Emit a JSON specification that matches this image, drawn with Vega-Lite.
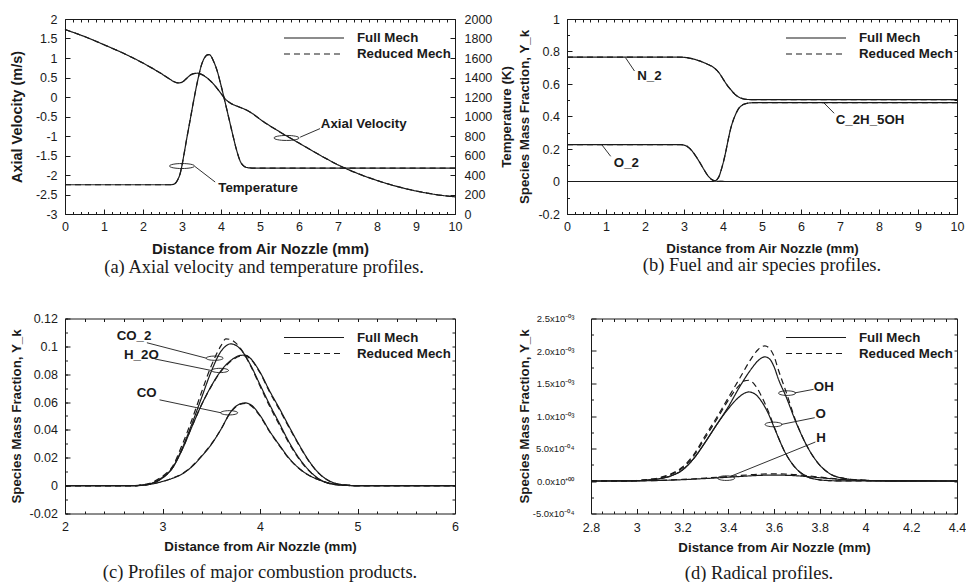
{
  "$schema": "https://vega.github.io/schema/vega-lite/v6.json",
  "background": "white",
  "padding": {"left": 8, "top": 12, "right": 0, "bottom": 0},
  "columns": 2,
  "spacing": {"row": 27.5, "column": 3},
  "align": {"row": "all", "column": "none"},
  "resolve": {"scale": {"strokeDash": "independent"}, "legend": {"strokeDash": "independent"}},
  "datasets": {
    "vel": [
      {"x": 0, "full": 1.73, "reduced": 1.73}, {"x": 0.5, "full": 1.55, "reduced": 1.55}, {"x": 1, "full": 1.34, "reduced": 1.34},
      {"x": 1.5, "full": 1.12, "reduced": 1.12}, {"x": 2, "full": 0.87, "reduced": 0.87}, {"x": 2.5, "full": 0.58, "reduced": 0.58},
      {"x": 2.7, "full": 0.45, "reduced": 0.45}, {"x": 2.8, "full": 0.39, "reduced": 0.39}, {"x": 2.9, "full": 0.36, "reduced": 0.36},
      {"x": 3, "full": 0.38, "reduced": 0.38}, {"x": 3.1, "full": 0.46, "reduced": 0.46}, {"x": 3.2, "full": 0.55, "reduced": 0.55},
      {"x": 3.3, "full": 0.6, "reduced": 0.6}, {"x": 3.4, "full": 0.61, "reduced": 0.61}, {"x": 3.5, "full": 0.58, "reduced": 0.58},
      {"x": 3.6, "full": 0.52, "reduced": 0.52}, {"x": 3.7, "full": 0.44, "reduced": 0.44}, {"x": 3.8, "full": 0.34, "reduced": 0.34},
      {"x": 3.9, "full": 0.22, "reduced": 0.22}, {"x": 4, "full": 0.09, "reduced": 0.09}, {"x": 4.1, "full": -0.04, "reduced": -0.04},
      {"x": 4.2, "full": -0.13, "reduced": -0.13}, {"x": 4.3, "full": -0.19, "reduced": -0.19}, {"x": 4.4, "full": -0.23, "reduced": -0.23},
      {"x": 4.5, "full": -0.27, "reduced": -0.27}, {"x": 4.6, "full": -0.31, "reduced": -0.31}, {"x": 4.7, "full": -0.36, "reduced": -0.36},
      {"x": 4.8, "full": -0.42, "reduced": -0.42}, {"x": 5, "full": -0.57, "reduced": -0.57}, {"x": 5.5, "full": -0.89, "reduced": -0.89},
      {"x": 6, "full": -1.18, "reduced": -1.18}, {"x": 6.5, "full": -1.47, "reduced": -1.47}, {"x": 7, "full": -1.74, "reduced": -1.74},
      {"x": 7.5, "full": -1.96, "reduced": -1.96}, {"x": 8, "full": -2.14, "reduced": -2.14}, {"x": 8.5, "full": -2.29, "reduced": -2.29},
      {"x": 9, "full": -2.41, "reduced": -2.41}, {"x": 9.5, "full": -2.5, "reduced": -2.5}, {"x": 10, "full": -2.56, "reduced": -2.56}
    ],
    "temp": [
      {"x": 0, "full": 300, "reduced": 300}, {"x": 2.7, "full": 300, "reduced": 300}, {"x": 2.75, "full": 302, "reduced": 302},
      {"x": 2.8, "full": 308, "reduced": 308}, {"x": 2.85, "full": 325, "reduced": 325}, {"x": 2.9, "full": 360, "reduced": 360},
      {"x": 2.95, "full": 410, "reduced": 410}, {"x": 3, "full": 500, "reduced": 500}, {"x": 3.05, "full": 610, "reduced": 610},
      {"x": 3.1, "full": 725, "reduced": 725}, {"x": 3.2, "full": 945, "reduced": 945}, {"x": 3.3, "full": 1165, "reduced": 1165},
      {"x": 3.4, "full": 1365, "reduced": 1365}, {"x": 3.5, "full": 1530, "reduced": 1530}, {"x": 3.6, "full": 1615, "reduced": 1615},
      {"x": 3.65, "full": 1632, "reduced": 1632}, {"x": 3.7, "full": 1635, "reduced": 1635}, {"x": 3.75, "full": 1615, "reduced": 1615},
      {"x": 3.8, "full": 1575, "reduced": 1575}, {"x": 3.9, "full": 1470, "reduced": 1470}, {"x": 4, "full": 1320, "reduced": 1320},
      {"x": 4.1, "full": 1155, "reduced": 1155}, {"x": 4.2, "full": 985, "reduced": 985}, {"x": 4.3, "full": 815, "reduced": 815},
      {"x": 4.4, "full": 655, "reduced": 655}, {"x": 4.5, "full": 535, "reduced": 535}, {"x": 4.6, "full": 487, "reduced": 487},
      {"x": 4.7, "full": 474, "reduced": 474}, {"x": 4.8, "full": 471, "reduced": 471}, {"x": 5, "full": 470, "reduced": 470},
      {"x": 10, "full": 470, "reduced": 470}
    ],
    "fuel": [
      {"x": 0, "sp": "N2", "full": 0.766, "reduced": 0.766}, {"x": 2.8, "sp": "N2", "full": 0.766, "reduced": 0.766},
      {"x": 3, "sp": "N2", "full": 0.764, "reduced": 0.764}, {"x": 3.2, "sp": "N2", "full": 0.756, "reduced": 0.756},
      {"x": 3.4, "sp": "N2", "full": 0.742, "reduced": 0.742}, {"x": 3.6, "sp": "N2", "full": 0.722, "reduced": 0.722},
      {"x": 3.75, "sp": "N2", "full": 0.703, "reduced": 0.703}, {"x": 3.9, "sp": "N2", "full": 0.668, "reduced": 0.668},
      {"x": 4, "sp": "N2", "full": 0.632, "reduced": 0.632}, {"x": 4.1, "sp": "N2", "full": 0.595, "reduced": 0.595},
      {"x": 4.2, "sp": "N2", "full": 0.565, "reduced": 0.565}, {"x": 4.3, "sp": "N2", "full": 0.538, "reduced": 0.538},
      {"x": 4.4, "sp": "N2", "full": 0.52, "reduced": 0.52}, {"x": 4.5, "sp": "N2", "full": 0.51, "reduced": 0.51},
      {"x": 4.6, "sp": "N2", "full": 0.505, "reduced": 0.505}, {"x": 4.8, "sp": "N2", "full": 0.504, "reduced": 0.504},
      {"x": 10, "sp": "N2", "full": 0.504, "reduced": 0.504},
      {"x": 0, "sp": "O2", "full": 0.227, "reduced": 0.227}, {"x": 2.9, "sp": "O2", "full": 0.227, "reduced": 0.227},
      {"x": 3, "sp": "O2", "full": 0.224, "reduced": 0.224}, {"x": 3.1, "sp": "O2", "full": 0.213, "reduced": 0.213},
      {"x": 3.2, "sp": "O2", "full": 0.19, "reduced": 0.19}, {"x": 3.3, "sp": "O2", "full": 0.157, "reduced": 0.157},
      {"x": 3.4, "sp": "O2", "full": 0.119, "reduced": 0.119}, {"x": 3.5, "sp": "O2", "full": 0.078, "reduced": 0.078},
      {"x": 3.6, "sp": "O2", "full": 0.04, "reduced": 0.04}, {"x": 3.7, "sp": "O2", "full": 0.014, "reduced": 0.014},
      {"x": 3.8, "sp": "O2", "full": 0.003, "reduced": 0.003}, {"x": 3.9, "sp": "O2", "full": 0.0008, "reduced": 0.0008},
      {"x": 4.1, "sp": "O2", "full": 0, "reduced": 0}, {"x": 10, "sp": "O2", "full": 0, "reduced": 0},
      {"x": 0, "sp": "C2H5OH", "full": 0, "reduced": 0}, {"x": 3.7, "sp": "C2H5OH", "full": 0, "reduced": 0},
      {"x": 3.8, "sp": "C2H5OH", "full": 0.005, "reduced": 0.005}, {"x": 3.85, "sp": "C2H5OH", "full": 0.013, "reduced": 0.013},
      {"x": 3.9, "sp": "C2H5OH", "full": 0.032, "reduced": 0.032}, {"x": 3.95, "sp": "C2H5OH", "full": 0.068, "reduced": 0.068},
      {"x": 4, "sp": "C2H5OH", "full": 0.11, "reduced": 0.11}, {"x": 4.05, "sp": "C2H5OH", "full": 0.16, "reduced": 0.16},
      {"x": 4.1, "sp": "C2H5OH", "full": 0.218, "reduced": 0.218}, {"x": 4.15, "sp": "C2H5OH", "full": 0.276, "reduced": 0.276},
      {"x": 4.2, "sp": "C2H5OH", "full": 0.328, "reduced": 0.328}, {"x": 4.25, "sp": "C2H5OH", "full": 0.368, "reduced": 0.368},
      {"x": 4.3, "sp": "C2H5OH", "full": 0.4, "reduced": 0.4}, {"x": 4.4, "sp": "C2H5OH", "full": 0.448, "reduced": 0.448},
      {"x": 4.5, "sp": "C2H5OH", "full": 0.471, "reduced": 0.471}, {"x": 4.6, "sp": "C2H5OH", "full": 0.48, "reduced": 0.48},
      {"x": 4.7, "sp": "C2H5OH", "full": 0.484, "reduced": 0.484}, {"x": 4.8, "sp": "C2H5OH", "full": 0.485, "reduced": 0.485},
      {"x": 10, "sp": "C2H5OH", "full": 0.485, "reduced": 0.485}
    ],
    "major": [
      {"x": 2, "sp": "CO2", "full": 0, "reduced": 0}, {"x": 2.7, "sp": "CO2", "full": 0, "reduced": 0},
      {"x": 2.8, "sp": "CO2", "full": 0.0005, "reduced": 0.0006}, {"x": 2.9, "sp": "CO2", "full": 0.002, "reduced": 0.0025},
      {"x": 3, "sp": "CO2", "full": 0.006, "reduced": 0.0068}, {"x": 3.1, "sp": "CO2", "full": 0.0125, "reduced": 0.0135},
      {"x": 3.2, "sp": "CO2", "full": 0.0265, "reduced": 0.029}, {"x": 3.3, "sp": "CO2", "full": 0.044, "reduced": 0.047},
      {"x": 3.4, "sp": "CO2", "full": 0.063, "reduced": 0.067}, {"x": 3.5, "sp": "CO2", "full": 0.082, "reduced": 0.086},
      {"x": 3.6, "sp": "CO2", "full": 0.0965, "reduced": 0.1005}, {"x": 3.65, "sp": "CO2", "full": 0.1003, "reduced": 0.1054},
      {"x": 3.7, "sp": "CO2", "full": 0.1018, "reduced": 0.1048}, {"x": 3.75, "sp": "CO2", "full": 0.1008, "reduced": 0.1025},
      {"x": 3.8, "sp": "CO2", "full": 0.098, "reduced": 0.0985}, {"x": 3.9, "sp": "CO2", "full": 0.087, "reduced": 0.0865},
      {"x": 4, "sp": "CO2", "full": 0.0725, "reduced": 0.0715}, {"x": 4.1, "sp": "CO2", "full": 0.058, "reduced": 0.0568},
      {"x": 4.2, "sp": "CO2", "full": 0.0446, "reduced": 0.0435}, {"x": 4.3, "sp": "CO2", "full": 0.031, "reduced": 0.0302},
      {"x": 4.4, "sp": "CO2", "full": 0.0198, "reduced": 0.0192}, {"x": 4.5, "sp": "CO2", "full": 0.0112, "reduced": 0.0108},
      {"x": 4.6, "sp": "CO2", "full": 0.005, "reduced": 0.0048}, {"x": 4.7, "sp": "CO2", "full": 0.0018, "reduced": 0.0017},
      {"x": 4.8, "sp": "CO2", "full": 0.0005, "reduced": 0.0005}, {"x": 4.9, "sp": "CO2", "full": 0.0001, "reduced": 0.0001},
      {"x": 5, "sp": "CO2", "full": 0, "reduced": 0}, {"x": 6, "sp": "CO2", "full": 0, "reduced": 0},
      {"x": 2, "sp": "H2O", "full": 0, "reduced": 0}, {"x": 2.7, "sp": "H2O", "full": 0, "reduced": 0},
      {"x": 2.8, "sp": "H2O", "full": 0.0003, "reduced": 0.0003}, {"x": 2.9, "sp": "H2O", "full": 0.0018, "reduced": 0.0018},
      {"x": 3, "sp": "H2O", "full": 0.0055, "reduced": 0.0055}, {"x": 3.1, "sp": "H2O", "full": 0.0125, "reduced": 0.0127},
      {"x": 3.2, "sp": "H2O", "full": 0.0255, "reduced": 0.0258}, {"x": 3.3, "sp": "H2O", "full": 0.042, "reduced": 0.0422},
      {"x": 3.4, "sp": "H2O", "full": 0.058, "reduced": 0.058}, {"x": 3.5, "sp": "H2O", "full": 0.0715, "reduced": 0.0713},
      {"x": 3.6, "sp": "H2O", "full": 0.0825, "reduced": 0.082}, {"x": 3.7, "sp": "H2O", "full": 0.0898, "reduced": 0.0892},
      {"x": 3.8, "sp": "H2O", "full": 0.0935, "reduced": 0.093}, {"x": 3.85, "sp": "H2O", "full": 0.0937, "reduced": 0.0932},
      {"x": 3.9, "sp": "H2O", "full": 0.0915, "reduced": 0.091}, {"x": 4, "sp": "H2O", "full": 0.0815, "reduced": 0.081},
      {"x": 4.1, "sp": "H2O", "full": 0.0678, "reduced": 0.067}, {"x": 4.2, "sp": "H2O", "full": 0.0553, "reduced": 0.0545},
      {"x": 4.3, "sp": "H2O", "full": 0.0422, "reduced": 0.0415}, {"x": 4.4, "sp": "H2O", "full": 0.0295, "reduced": 0.029},
      {"x": 4.5, "sp": "H2O", "full": 0.018, "reduced": 0.0176}, {"x": 4.6, "sp": "H2O", "full": 0.0092, "reduced": 0.009},
      {"x": 4.7, "sp": "H2O", "full": 0.0038, "reduced": 0.0037}, {"x": 4.8, "sp": "H2O", "full": 0.0012, "reduced": 0.0012},
      {"x": 4.9, "sp": "H2O", "full": 0.0003, "reduced": 0.0003}, {"x": 5, "sp": "H2O", "full": 0, "reduced": 0},
      {"x": 6, "sp": "H2O", "full": 0, "reduced": 0},
      {"x": 2, "sp": "CO", "full": 0, "reduced": 0}, {"x": 2.7, "sp": "CO", "full": 0, "reduced": 0},
      {"x": 2.8, "sp": "CO", "full": 0.0004, "reduced": 0.0004}, {"x": 2.9, "sp": "CO", "full": 0.0013, "reduced": 0.0013},
      {"x": 3, "sp": "CO", "full": 0.003, "reduced": 0.003}, {"x": 3.1, "sp": "CO", "full": 0.0052, "reduced": 0.0053},
      {"x": 3.2, "sp": "CO", "full": 0.0083, "reduced": 0.0085}, {"x": 3.3, "sp": "CO", "full": 0.0135, "reduced": 0.0138},
      {"x": 3.4, "sp": "CO", "full": 0.021, "reduced": 0.0213}, {"x": 3.5, "sp": "CO", "full": 0.0295, "reduced": 0.0298},
      {"x": 3.6, "sp": "CO", "full": 0.0405, "reduced": 0.0405}, {"x": 3.7, "sp": "CO", "full": 0.053, "reduced": 0.0528},
      {"x": 3.75, "sp": "CO", "full": 0.0568, "reduced": 0.0565}, {"x": 3.8, "sp": "CO", "full": 0.0588, "reduced": 0.0585},
      {"x": 3.85, "sp": "CO", "full": 0.0594, "reduced": 0.059}, {"x": 3.9, "sp": "CO", "full": 0.0583, "reduced": 0.0578},
      {"x": 4, "sp": "CO", "full": 0.0505, "reduced": 0.05}, {"x": 4.1, "sp": "CO", "full": 0.039, "reduced": 0.0385},
      {"x": 4.2, "sp": "CO", "full": 0.029, "reduced": 0.0286}, {"x": 4.3, "sp": "CO", "full": 0.0195, "reduced": 0.0192},
      {"x": 4.4, "sp": "CO", "full": 0.0125, "reduced": 0.0123}, {"x": 4.5, "sp": "CO", "full": 0.0075, "reduced": 0.0074},
      {"x": 4.6, "sp": "CO", "full": 0.0043, "reduced": 0.0042}, {"x": 4.7, "sp": "CO", "full": 0.002, "reduced": 0.002},
      {"x": 4.8, "sp": "CO", "full": 0.0008, "reduced": 0.0008}, {"x": 4.9, "sp": "CO", "full": 0.0002, "reduced": 0.0002},
      {"x": 5, "sp": "CO", "full": 0, "reduced": 0}, {"x": 6, "sp": "CO", "full": 0, "reduced": 0}
    ],
    "radical": [
      {"x": 2.8, "sp": "OH", "full": 0, "reduced": 0}, {"x": 2.9, "sp": "OH", "full": 0.0000005, "reduced": 0.000001},
      {"x": 3, "sp": "OH", "full": 0.000005, "reduced": 0.000008}, {"x": 3.05, "sp": "OH", "full": 0.000015, "reduced": 0.000022},
      {"x": 3.1, "sp": "OH", "full": 0.000035, "reduced": 0.000052}, {"x": 3.15, "sp": "OH", "full": 0.00008, "reduced": 0.00011},
      {"x": 3.2, "sp": "OH", "full": 0.00017, "reduced": 0.000215}, {"x": 3.25, "sp": "OH", "full": 0.00035, "reduced": 0.00041},
      {"x": 3.3, "sp": "OH", "full": 0.0006, "reduced": 0.0007}, {"x": 3.35, "sp": "OH", "full": 0.00087, "reduced": 0.00098},
      {"x": 3.4, "sp": "OH", "full": 0.00114, "reduced": 0.00128}, {"x": 3.45, "sp": "OH", "full": 0.00145, "reduced": 0.00158},
      {"x": 3.5, "sp": "OH", "full": 0.00172, "reduced": 0.00188}, {"x": 3.53, "sp": "OH", "full": 0.00185, "reduced": 0.00202},
      {"x": 3.56, "sp": "OH", "full": 0.00191, "reduced": 0.00208}, {"x": 3.58, "sp": "OH", "full": 0.00188, "reduced": 0.00204},
      {"x": 3.6, "sp": "OH", "full": 0.00176, "reduced": 0.00192}, {"x": 3.62, "sp": "OH", "full": 0.00156, "reduced": 0.0017},
      {"x": 3.65, "sp": "OH", "full": 0.00132, "reduced": 0.0014}, {"x": 3.7, "sp": "OH", "full": 0.00087, "reduced": 0.00088},
      {"x": 3.75, "sp": "OH", "full": 0.0005, "reduced": 0.0005}, {"x": 3.8, "sp": "OH", "full": 0.000245, "reduced": 0.000245},
      {"x": 3.85, "sp": "OH", "full": 0.0001, "reduced": 0.0001}, {"x": 3.9, "sp": "OH", "full": 0.000045, "reduced": 0.000045},
      {"x": 3.95, "sp": "OH", "full": 0.00002, "reduced": 0.00002}, {"x": 4, "sp": "OH", "full": 0.00001, "reduced": 0.00001},
      {"x": 4.1, "sp": "OH", "full": 0.000003, "reduced": 0.000003}, {"x": 4.2, "sp": "OH", "full": 0.000001, "reduced": 0.000001},
      {"x": 4.4, "sp": "OH", "full": 0, "reduced": 0},
      {"x": 2.8, "sp": "O", "full": 0, "reduced": 0}, {"x": 2.9, "sp": "O", "full": 0.0000005, "reduced": 0.000001},
      {"x": 3, "sp": "O", "full": 0.000005, "reduced": 0.000007}, {"x": 3.05, "sp": "O", "full": 0.000015, "reduced": 0.000019},
      {"x": 3.1, "sp": "O", "full": 0.000035, "reduced": 0.000047}, {"x": 3.15, "sp": "O", "full": 0.00008, "reduced": 0.0001},
      {"x": 3.2, "sp": "O", "full": 0.00017, "reduced": 0.0002}, {"x": 3.25, "sp": "O", "full": 0.00035, "reduced": 0.00039},
      {"x": 3.3, "sp": "O", "full": 0.0006, "reduced": 0.00067}, {"x": 3.35, "sp": "O", "full": 0.00087, "reduced": 0.00095},
      {"x": 3.4, "sp": "O", "full": 0.00111, "reduced": 0.00124}, {"x": 3.45, "sp": "O", "full": 0.0013, "reduced": 0.00148},
      {"x": 3.47, "sp": "O", "full": 0.00135, "reduced": 0.00154}, {"x": 3.49, "sp": "O", "full": 0.00137, "reduced": 0.00155},
      {"x": 3.52, "sp": "O", "full": 0.00133, "reduced": 0.00146}, {"x": 3.55, "sp": "O", "full": 0.0012, "reduced": 0.00127},
      {"x": 3.58, "sp": "O", "full": 0.001, "reduced": 0.00103}, {"x": 3.6, "sp": "O", "full": 0.00083, "reduced": 0.00084},
      {"x": 3.65, "sp": "O", "full": 0.00043, "reduced": 0.00043}, {"x": 3.7, "sp": "O", "full": 0.00018, "reduced": 0.00018},
      {"x": 3.75, "sp": "O", "full": 0.00006, "reduced": 0.00006}, {"x": 3.8, "sp": "O", "full": 0.000018, "reduced": 0.000018},
      {"x": 3.85, "sp": "O", "full": 0.000005, "reduced": 0.000005}, {"x": 3.9, "sp": "O", "full": 0.000001, "reduced": 0.000001},
      {"x": 4, "sp": "O", "full": 0, "reduced": 0}, {"x": 4.4, "sp": "O", "full": 0, "reduced": 0},
      {"x": 2.8, "sp": "H", "full": 0, "reduced": 0}, {"x": 3, "sp": "H", "full": 0.000002, "reduced": 0.000003},
      {"x": 3.1, "sp": "H", "full": 0.000008, "reduced": 0.00001}, {"x": 3.2, "sp": "H", "full": 0.00002, "reduced": 0.000024},
      {"x": 3.3, "sp": "H", "full": 0.000038, "reduced": 0.000045}, {"x": 3.4, "sp": "H", "full": 0.000058, "reduced": 0.00007},
      {"x": 3.5, "sp": "H", "full": 0.00008, "reduced": 0.000097}, {"x": 3.55, "sp": "H", "full": 0.000088, "reduced": 0.000107},
      {"x": 3.6, "sp": "H", "full": 0.00009, "reduced": 0.00011}, {"x": 3.65, "sp": "H", "full": 0.000088, "reduced": 0.000107},
      {"x": 3.7, "sp": "H", "full": 0.00008, "reduced": 0.000097}, {"x": 3.75, "sp": "H", "full": 0.000066, "reduced": 0.00008},
      {"x": 3.8, "sp": "H", "full": 0.00005, "reduced": 0.00006}, {"x": 3.85, "sp": "H", "full": 0.000035, "reduced": 0.000042},
      {"x": 3.9, "sp": "H", "full": 0.000022, "reduced": 0.000027}, {"x": 4, "sp": "H", "full": 0.000008, "reduced": 0.00001},
      {"x": 4.1, "sp": "H", "full": 0.000003, "reduced": 0.000004}, {"x": 4.2, "sp": "H", "full": 0.000001, "reduced": 0.000001},
      {"x": 4.4, "sp": "H", "full": 0, "reduced": 0}
    ],
    "aLeaders": [{"x": 6.03, "y": -1.03, "x2": 6.54, "y2": -0.81}, {"x": 3.33, "y": -1.78, "x2": 3.85, "y2": -2.18}],
    "aRings": [{"x": 5.68, "y": -1.05}, {"x": 3.0, "y": -1.77}],
    "aNames": [{"x": 6.56, "y": -0.68, "t": "Axial Velocity"}, {"x": 3.93, "y": -2.33, "t": "Temperature"}],
    "bLeaders": [{"x": 1.5, "y": 0.762, "x2": 1.73, "y2": 0.68}, {"x": 0.89, "y": 0.227, "x2": 1.12, "y2": 0.155}, {"x": 6.59, "y": 0.483, "x2": 6.85, "y2": 0.42}],
    "bNames": [{"x": 1.8, "y": 0.647, "t": "N_2"}, {"x": 1.2, "y": 0.114, "t": "O_2"}, {"x": 6.89, "y": 0.38, "t": "C_2H_5OH"}],
    "cLeaders": [{"x": 2.84, "y": 0.1026, "x2": 3.45, "y2": 0.0915}, {"x": 2.92, "y": 0.091, "x2": 3.5, "y2": 0.0827}, {"x": 2.97, "y": 0.0616, "x2": 3.6, "y2": 0.0523}],
    "cRings": [{"x": 3.535, "y": 0.0915}, {"x": 3.59, "y": 0.0827}, {"x": 3.684, "y": 0.0523}],
    "cNames": [{"x": 2.53, "y": 0.1073, "t": "CO_2"}, {"x": 2.605, "y": 0.0939, "t": "H_2O"}, {"x": 2.735, "y": 0.0666, "t": "CO"}],
    "dLeaders": [{"x": 3.69, "y": 0.001355, "x2": 3.773, "y2": 0.00141}, {"x": 3.632, "y": 0.00087, "x2": 3.778, "y2": 0.000974}, {"x": 3.409, "y": 0.00007, "x2": 3.781, "y2": 0.0006}],
    "dRings": [{"x": 3.657, "y": 0.001352}, {"x": 3.598, "y": 0.00087}, {"x": 3.391, "y": 0.000044}],
    "dNames": [{"x": 3.774, "y": 0.001447, "t": "OH"}, {"x": 3.781, "y": 0.001036, "t": "O"}, {"x": 3.785, "y": 0.000666, "t": "H"}]
  },
  "concat": [
    {
      "width": 390, "height": 195,
      "title": {"text": "(a) Axial velocity and temperature profiles.", "dx": 4},
      "resolve": {"scale": {"y": "independent"}, "axis": {"x": "independent", "y": "independent"}},
      "layer": [
        {
          "data": {"name": "vel"},
          "transform": [{"fold": ["full", "reduced"], "as": ["mech", "v"]}],
          "mark": {"type": "line", "interpolate": "monotone", "strokeWidth": 1.2, "color": "#1a1a1a"},
          "encoding": {
            "x": {"field": "x", "type": "quantitative", "scale": {"domain": [0, 10], "nice": false},
              "axis": {"orient": "bottom", "values": [0, 1, 2, 3, 4, 5, 6, 7, 8, 9, 10], "title": "Distance from Air Nozzle (mm)", "titleFontSize": 15, "titlePadding": 8.5, "labelExpr": "'' + datum.value"}},
            "y": {"field": "v", "type": "quantitative", "scale": {"domain": [-3, 2], "nice": false, "zero": false},
              "axis": {"orient": "left", "values": [-3, -2.5, -2, -1.5, -1, -0.5, 0, 0.5, 1, 1.5, 2], "title": "Axial Velocity (m/s)", "titleFontSize": 14.5, "labelPadding": 13, "titlePadding": 11, "labelExpr": "'' + datum.value"}},
            "strokeDash": {"field": "mech", "type": "nominal", "scale": {"domain": ["full", "reduced"], "range": [[1, 0], [6, 4]]}, "legend": {"orient": "none", "legendX": 218, "legendY": 11, "labelExpr": "datum.label == 'full' ? 'Full Mech' : 'Reduced Mech'"}}
          }
        },
        {
          "data": {"name": "temp"},
          "transform": [{"fold": ["full", "reduced"], "as": ["mech", "v"]}],
          "mark": {"type": "line", "interpolate": "monotone", "strokeWidth": 1.2, "color": "#1a1a1a"},
          "encoding": {
            "x": {"field": "x", "type": "quantitative", "scale": {"domain": [0, 10], "nice": false},
              "axis": {"orient": "bottom", "tickCount": 50, "labels": false, "title": null, "tickSize": -2.5}},
            "y": {"field": "v", "type": "quantitative", "scale": {"domain": [0, 2000], "nice": false},
              "axis": {"orient": "right", "values": [0, 200, 400, 600, 800, 1000, 1200, 1400, 1600, 1800, 2000], "title": "Temperature (K)", "titleAngle": 270, "titleBaseline": "top", "labelPadding": 14, "titlePadding": 8, "labelExpr": "'' + datum.value"}},
            "strokeDash": {"field": "mech", "type": "nominal", "scale": {"domain": ["full", "reduced"], "range": [[1, 0], [6, 4]]}, "legend": {"orient": "none", "legendX": 218, "legendY": 11, "labelExpr": "datum.label == 'full' ? 'Full Mech' : 'Reduced Mech'"}}
          }
        },
        {
          "data": {"name": "aLeaders"},
          "mark": {"type": "rule", "color": "#1a1a1a", "strokeWidth": 0.9},
          "encoding": {
            "x": {"field": "x", "type": "quantitative", "scale": {"domain": [0, 10], "nice": false},
              "axis": {"orient": "top", "tickCount": 50, "labels": false, "title": null, "tickSize": -3}},
            "y": {"field": "y", "type": "quantitative", "scale": {"domain": [-3, 2], "nice": false, "zero": false}, "axis": null},
            "x2": {"field": "x2"}, "y2": {"field": "y2"}
          }
        },
        {
          "data": {"name": "aRings"},
          "mark": {"type": "point", "shape": "M-1,0A1,0.2,0,1,0,1,0A1,0.2,0,1,0,-1,0Z", "size": 625, "filled": false, "stroke": "#1a1a1a", "strokeWidth": 0.9, "opacity": 1},
          "encoding": {
            "x": {"field": "x", "type": "quantitative", "axis": null},
            "y": {"field": "y", "type": "quantitative", "scale": {"domain": [-3, 2], "nice": false, "zero": false}, "axis": null}
          }
        },
        {
          "data": {"name": "aNames"},
          "mark": {"type": "text", "align": "left", "baseline": "middle", "font": "Liberation Sans", "fontWeight": "bold", "fontSize": 13.3, "color": "#1a1a1a"},
          "encoding": {
            "x": {"field": "x", "type": "quantitative", "axis": null},
            "y": {"field": "y", "type": "quantitative", "scale": {"domain": [-3, 2], "nice": false, "zero": false}, "axis": null},
            "text": {"field": "t"}
          }
        }
      ]
    },
    {
      "width": 390, "height": 195,
      "title": {"text": "(b) Fuel and air species profiles."},
      "resolve": {"axis": {"x": "independent", "y": "independent"}},
      "layer": [
        {
          "data": {"name": "fuel"},
          "transform": [{"fold": ["full", "reduced"], "as": ["mech", "v"]}],
          "mark": {"type": "line", "interpolate": "monotone", "strokeWidth": 1.2, "color": "#1a1a1a"},
          "encoding": {
            "x": {"field": "x", "type": "quantitative", "scale": {"domain": [0, 10], "nice": false},
              "axis": {"orient": "bottom", "values": [0, 1, 2, 3, 4, 5, 6, 7, 8, 9, 10], "title": "Distance from Air Nozzle (mm)", "titlePadding": 8.5, "labelExpr": "'' + datum.value"}},
            "y": {"field": "v", "type": "quantitative", "scale": {"domain": [-0.2, 1], "nice": false, "zero": false},
              "axis": {"orient": "left", "values": [-0.2, 0, 0.2, 0.4, 0.6, 0.8, 1], "title": "Species Mass Fraction, Y_k", "labelPadding": 12.5, "titlePadding": 6, "labelExpr": "'' + datum.value"}},
            "detail": {"field": "sp"},
            "strokeDash": {"field": "mech", "type": "nominal", "scale": {"domain": ["full", "reduced"], "range": [[1, 0], [6, 4]]}, "legend": {"orient": "none", "legendX": 218, "legendY": 11, "labelExpr": "datum.label == 'full' ? 'Full Mech' : 'Reduced Mech'"}}
          }
        },
        {
          "data": {"name": "bLeaders"},
          "mark": {"type": "rule", "color": "#1a1a1a", "strokeWidth": 0.9},
          "encoding": {
            "x": {"field": "x", "type": "quantitative", "scale": {"domain": [0, 10], "nice": false},
              "axis": {"orient": "bottom", "tickCount": 50, "labels": false, "title": null, "tickSize": -2.5}},
            "y": {"field": "y", "type": "quantitative", "scale": {"domain": [-0.2, 1], "nice": false, "zero": false},
              "axis": {"orient": "left", "tickCount": 12, "labels": false, "title": null, "tickSize": -2.5}},
            "x2": {"field": "x2"}, "y2": {"field": "y2"}
          }
        },
        {
          "data": {"name": "bNames"},
          "mark": {"type": "text", "align": "left", "baseline": "middle", "font": "Liberation Sans", "fontWeight": "bold", "fontSize": 13.3, "color": "#1a1a1a"},
          "encoding": {
            "x": {"field": "x", "type": "quantitative", "scale": {"domain": [0, 10], "nice": false},
              "axis": {"orient": "top", "tickCount": 50, "labels": false, "title": null, "tickSize": -3}},
            "y": {"field": "y", "type": "quantitative", "scale": {"domain": [-0.2, 1], "nice": false, "zero": false},
              "axis": {"orient": "right", "tickCount": 12, "labels": false, "title": null, "tickSize": -3}},
            "text": {"field": "t"}
          }
        }
      ]
    },
    {
      "width": 390, "height": 195,
      "title": {"text": "(c) Profiles of major combustion products.", "offset": 10.5},
      "resolve": {"axis": {"x": "independent", "y": "independent"}},
      "layer": [
        {
          "data": {"name": "major"},
          "transform": [{"fold": ["full", "reduced"], "as": ["mech", "v"]}],
          "mark": {"type": "line", "interpolate": "monotone", "strokeWidth": 1.2, "color": "#1a1a1a"},
          "encoding": {
            "x": {"field": "x", "type": "quantitative", "scale": {"domain": [2, 6], "nice": false},
              "axis": {"orient": "bottom", "values": [2, 3, 4, 5, 6], "title": "Distance from Air Nozzle (mm)", "labelPadding": 12, "labelExpr": "'' + datum.value"}},
            "y": {"field": "v", "type": "quantitative", "scale": {"domain": [-0.02, 0.12], "nice": false, "zero": false},
              "axis": {"orient": "left", "values": [-0.02, 0, 0.02, 0.04, 0.06, 0.08, 0.1, 0.12], "title": "Species Mass Fraction, Y_k", "labelPadding": 12.5, "titlePadding": 6, "labelExpr": "'' + datum.value"}},
            "detail": {"field": "sp"},
            "strokeDash": {"field": "mech", "type": "nominal", "scale": {"domain": ["full", "reduced"], "range": [[1, 0], [6, 4]]}, "legend": {"orient": "none", "legendX": 218, "legendY": 11, "labelExpr": "datum.label == 'full' ? 'Full Mech' : 'Reduced Mech'"}}
          }
        },
        {
          "data": {"name": "cLeaders"},
          "mark": {"type": "rule", "color": "#1a1a1a", "strokeWidth": 0.9},
          "encoding": {
            "x": {"field": "x", "type": "quantitative", "scale": {"domain": [2, 6], "nice": false},
              "axis": {"orient": "bottom", "tickCount": 20, "labels": false, "title": null, "tickSize": -2.5}},
            "y": {"field": "y", "type": "quantitative", "scale": {"domain": [-0.02, 0.12], "nice": false, "zero": false},
              "axis": {"orient": "left", "tickCount": 14, "labels": false, "title": null, "tickSize": -2.5}},
            "x2": {"field": "x2"}, "y2": {"field": "y2"}
          }
        },
        {
          "data": {"name": "cRings"},
          "mark": {"type": "point", "shape": "M-1,0A1,0.25,0,1,0,1,0A1,0.25,0,1,0,-1,0Z", "size": 289, "filled": false, "stroke": "#1a1a1a", "strokeWidth": 0.9, "opacity": 1},
          "encoding": {
            "x": {"field": "x", "type": "quantitative", "scale": {"domain": [2, 6], "nice": false},
              "axis": {"orient": "top", "tickCount": 20, "labels": false, "title": null, "tickSize": -3}},
            "y": {"field": "y", "type": "quantitative", "scale": {"domain": [-0.02, 0.12], "nice": false, "zero": false},
              "axis": {"orient": "right", "tickCount": 14, "labels": false, "title": null, "tickSize": -3}}
          }
        },
        {
          "data": {"name": "cNames"},
          "mark": {"type": "text", "align": "left", "baseline": "middle", "font": "Liberation Sans", "fontWeight": "bold", "fontSize": 13.3, "color": "#1a1a1a"},
          "encoding": {
            "x": {"field": "x", "type": "quantitative", "axis": null},
            "y": {"field": "y", "type": "quantitative", "axis": null},
            "text": {"field": "t"}
          }
        }
      ]
    },
    {
      "width": 366, "height": 195,
      "title": {"text": "(d) Radical profiles.", "dx": -15, "offset": 10.5},
      "resolve": {"axis": {"x": "independent", "y": "independent"}},
      "layer": [
        {
          "data": {"name": "radical"},
          "transform": [{"fold": ["full", "reduced"], "as": ["mech", "v"]}],
          "mark": {"type": "line", "interpolate": "monotone", "strokeWidth": 1.2, "color": "#1a1a1a"},
          "encoding": {
            "x": {"field": "x", "type": "quantitative", "scale": {"domain": [2.8, 4.4], "nice": false},
              "axis": {"orient": "bottom", "values": [2.8, 3, 3.2, 3.4, 3.6, 3.8, 4, 4.2, 4.4], "title": "Distance from Air Nozzle (mm)", "labelPadding": 13, "labelExpr": "'' + datum.value"}},
            "y": {"field": "v", "type": "quantitative", "scale": {"domain": [-0.0005, 0.0025], "nice": false, "zero": false},
              "axis": {"orient": "left", "values": [-0.0005, 0, 0.0005, 0.001, 0.0015, 0.002, 0.0025], "title": "Species Mass Fraction, Y_k", "labelFontSize": 9.5, "labelPadding": 22, "titlePadding": 0.5,
                "labelExpr": "datum.value < -0.0001 ? '-5.0x10⁻⁰⁴' : datum.value < 0.0001 ? '0.0x10⁺⁰⁰' : datum.value < 0.0007 ? '5.0x10⁻⁰⁴' : datum.value < 0.0012 ? '1.0x10⁻⁰³' : datum.value < 0.0017 ? '1.5x10⁻⁰³' : datum.value < 0.0022 ? '2.0x10⁻⁰³' : '2.5x10⁻⁰³'"}},
            "detail": {"field": "sp"},
            "strokeDash": {"field": "mech", "type": "nominal", "scale": {"domain": ["full", "reduced"], "range": [[1, 0], [6, 4]]}, "legend": {"orient": "none", "legendX": 194, "legendY": 11, "labelExpr": "datum.label == 'full' ? 'Full Mech' : 'Reduced Mech'"}}
          }
        },
        {
          "data": {"name": "dLeaders"},
          "mark": {"type": "rule", "color": "#1a1a1a", "strokeWidth": 0.9},
          "encoding": {
            "x": {"field": "x", "type": "quantitative", "scale": {"domain": [2.8, 4.4], "nice": false},
              "axis": {"orient": "bottom", "tickCount": 32, "labels": false, "title": null, "tickSize": -2.5}},
            "y": {"field": "y", "type": "quantitative", "scale": {"domain": [-0.0005, 0.0025], "nice": false, "zero": false},
              "axis": {"orient": "left", "values": [-0.00025, 0.00025, 0.00075, 0.00125, 0.00175, 0.00225], "labels": false, "title": null, "tickSize": -2.5}},
            "x2": {"field": "x2"}, "y2": {"field": "y2"}
          }
        },
        {
          "data": {"name": "dRings"},
          "mark": {"type": "point", "shape": "M-1,0A1,0.27,0,1,0,1,0A1,0.27,0,1,0,-1,0Z", "size": 289, "filled": false, "stroke": "#1a1a1a", "strokeWidth": 0.9, "opacity": 1},
          "encoding": {
            "x": {"field": "x", "type": "quantitative", "scale": {"domain": [2.8, 4.4], "nice": false},
              "axis": {"orient": "top", "tickCount": 32, "labels": false, "title": null, "tickSize": -3}},
            "y": {"field": "y", "type": "quantitative", "scale": {"domain": [-0.0005, 0.0025], "nice": false, "zero": false},
              "axis": {"orient": "right", "values": [-0.0005, -0.00025, 0, 0.00025, 0.0005, 0.00075, 0.001, 0.00125, 0.0015, 0.00175, 0.002, 0.00225, 0.0025], "labels": false, "title": null, "tickSize": -3}}
          }
        },
        {
          "data": {"name": "dNames"},
          "mark": {"type": "text", "align": "left", "baseline": "middle", "font": "Liberation Sans", "fontWeight": "bold", "fontSize": 13.3, "color": "#1a1a1a"},
          "encoding": {
            "x": {"field": "x", "type": "quantitative", "axis": null},
            "y": {"field": "y", "type": "quantitative", "axis": null},
            "text": {"field": "t"}
          }
        }
      ]
    }
  ],
  "config": {
    "font": "Liberation Sans",
    "view": {"stroke": "#1a1a1a", "strokeWidth": 1},
    "axis": {
      "domain": false, "grid": false, "tickColor": "#1a1a1a", "tickSize": -5, "tickWidth": 1,
      "labelFont": "Liberation Sans", "labelFontSize": 12.5, "labelColor": "#1a1a1a", "labelFlush": false, "labelOverlap": false, "labelPadding": 11,
      "titleFont": "Liberation Sans", "titleFontSize": 13.3, "titleFontWeight": "bold", "titleColor": "#1a1a1a", "titlePadding": 6
    },
    "legend": {
      "title": null, "padding": 0,
      "symbolType": "stroke", "symbolSize": 3600, "symbolStrokeWidth": 1.2, "symbolStrokeColor": "#1a1a1a",
      "labelFont": "Liberation Sans", "labelFontSize": 13.3, "labelFontWeight": "bold", "labelColor": "#1a1a1a",
      "labelOffset": 12, "clipHeight": 16, "rowPadding": 0
    },
    "title": {"orient": "bottom", "frame": "group", "anchor": "middle", "font": "Liberation Serif", "fontSize": 18.5, "fontWeight": "normal", "color": "#1a1a1a", "offset": 1.5}
  }
}
